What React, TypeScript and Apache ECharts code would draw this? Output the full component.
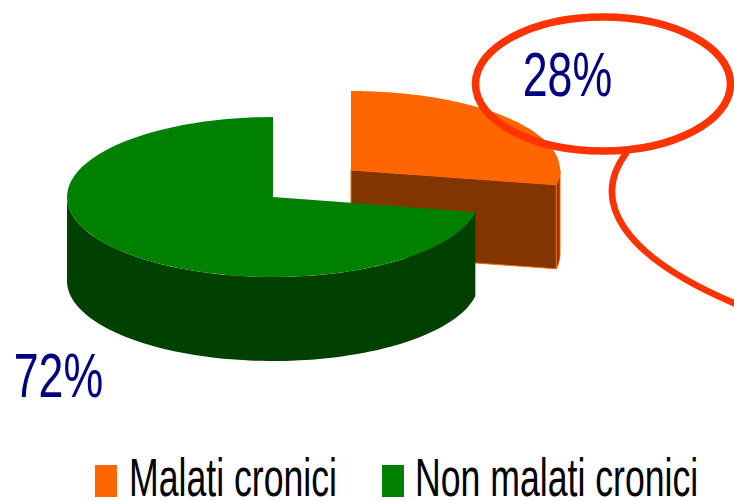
import React, { useEffect, useRef } from "react";
import * as echarts from "echarts";

const categories = ["Malati cronici", "Non malati cronici"];
const shares = [28, 72];
const topColors = ["#FF6600", "#008000"];
const sideColors = ["#833500", "#004000"];
const labelColor = "#000080";
const calloutColor = "#FF3300";
const font = "'Liberation Sans', Arial, sans-serif";

const DEPTH = 84;

function pt(cx: number, cy: number, rx: number, ry: number, deg: number) {
  const a = (deg * Math.PI) / 180;
  return [cx + rx * Math.cos(a), cy + ry * Math.sin(a)];
}
function arc(cx: number, cy: number, rx: number, ry: number, from: number, to: number) {
  const out: number[][] = [];
  const n = 80;
  for (let i = 0; i <= n; i++) out.push(pt(cx, cy, rx, ry, from + ((to - from) * i) / n));
  return out;
}
const shift = (p: number[][]) => p.map(([x, y]) => [x, y + DEPTH]);

const legendItem = (name: string, color: string, boxX: number, textX: number) => [
  { type: "rect", shape: { x: boxX, y: 465, width: 22, height: 32 }, style: { fill: color } },
  {
    type: "text",
    x: textX,
    y: 478,
    scaleX: 0.66,
    style: { text: name, font: `54px ${font}`, lineHeight: 44, fill: "#000", align: "left", verticalAlign: "middle" },
  },
];

export default function App() {
  const ref = useRef<HTMLDivElement>(null);
  useEffect(() => {
    const chart = echarts.init(ref.current!, undefined, { renderer: "svg" });
    const orangeItem = (_: any, api: any) => {
      const v = api.value(0);
      const cx = 351, cy = 170, rx = 209, ry = 79;
      const end = -90 + (v / 100) * 360;
      const top = arc(cx, cy, rx, ry, -90, end);
      const last = top[top.length - 1];
      const outer = arc(cx, cy, rx, ry, 0, end);
      const wall = arc(cx, cy, rx, ry, end, 0);
      return {
        type: "group",
        children: [
          { type: "polygon", shape: { points: [...wall, ...shift(outer)] }, style: { fill: sideColors[0], stroke: topColors[0], lineWidth: 1 } },
          { type: "polygon", shape: { points: [[cx, cy], last, [last[0], last[1] + DEPTH], [cx, cy + DEPTH]] }, style: { fill: sideColors[0], stroke: topColors[0], lineWidth: 1 } },
          { type: "polygon", shape: { points: [[cx, cy], ...top] }, style: { fill: topColors[0] } },
          { type: "text", x: 567.5, y: 75, scaleX: 0.71, style: { text: v + "%", font: `63px ${font}`, fill: labelColor, align: "center", verticalAlign: "middle" } },
        ],
      };
    };
    const greenItem = (_: any, api: any) => {
      const v = api.value(0);
      const cx = 273, cy = 197, rx = 206, ry = 80;
      const start = -90 - (v / 100) * 360;
      const top = arc(cx, cy, rx, ry, start, -90);
      const front = arc(cx, cy, rx, ry, start, -180);
      const frontRev = [...front].reverse();
      return {
        type: "group",
        children: [
          { type: "polygon", shape: { points: [...front, ...shift(frontRev)] }, style: { fill: sideColors[1] } },
          { type: "polygon", shape: { points: [[cx, cy], ...top] }, style: { fill: topColors[1] } },
          { type: "text", x: 58.5, y: 376, scaleX: 0.71, style: { text: v + "%", font: `63px ${font}`, fill: labelColor, align: "center", verticalAlign: "middle" } },
        ],
      };
    };
    chart.setOption({
      animation: false,
      series: [
        { type: "custom", name: categories[0], coordinateSystem: "none", silent: true, itemStyle: { color: topColors[0] }, data: [[shares[0]]], renderItem: orangeItem },
        { type: "custom", name: categories[1], coordinateSystem: "none", silent: true, itemStyle: { color: topColors[1] }, data: [[shares[1]]], renderItem: greenItem },
      ],
      graphic: [
        { type: "ellipse", z: 10, shape: { cx: 603, cy: 84, rx: 127.5, ry: 67 }, style: { fill: "none", stroke: calloutColor, lineWidth: 7.5 } },
        { type: "bezierCurve", z: 10, shape: { x1: 627, y1: 152, cpx1: 590, cpy1: 200, cpx2: 620, cpy2: 255, x2: 736, y2: 304 }, style: { fill: "none", stroke: calloutColor, lineWidth: 6.5 } },
        ...legendItem(categories[0], topColors[0], 95, 129),
        ...legendItem(categories[1], topColors[1], 382, 415),
      ],
    });
    return () => chart.dispose();
  }, []);
  return <div ref={ref} style={{ position: "absolute", left: 0, top: 0, width: 734, height: 501, background: "#fff" }} />;
}
